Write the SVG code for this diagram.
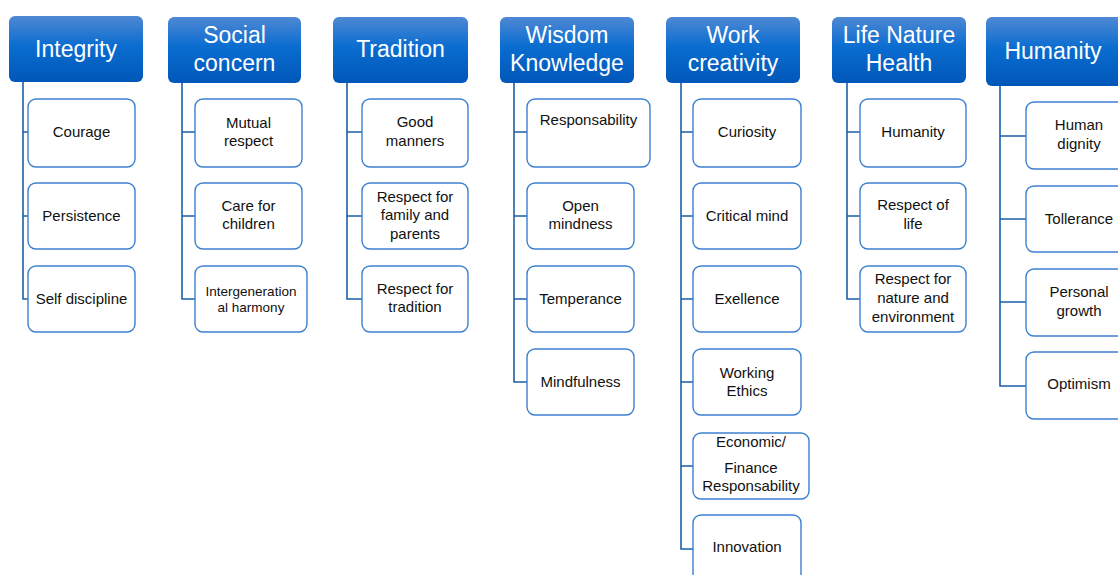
<svg xmlns="http://www.w3.org/2000/svg" width="1118" height="575" viewBox="0 0 1118 575">
<defs>
<linearGradient id="hg" x1="0" y1="0" x2="0" y2="1">
<stop offset="0" stop-color="#4f88d3"/>
<stop offset="0.45" stop-color="#0a6dd0"/>
<stop offset="1" stop-color="#0057b8"/>
</linearGradient>
<style>
.h{fill:url(#hg);}
.ht{fill:#fff;font-family:"Liberation Sans",Arial,sans-serif;font-size:23px;text-anchor:middle;}
.c{fill:#fff;stroke:#3c80d0;stroke-width:1.4;}
.ct{fill:#111;font-family:"Liberation Sans",Arial,sans-serif;font-size:15px;text-anchor:middle;}
.sm{font-size:13.5px;}
.ln{fill:none;stroke:#1d5fa9;stroke-width:1.6;}
</style>
</defs>
<rect width="1118" height="575" fill="#fff"/>
<g id="connectors">
<path class="ln" d="M23,81V299H28M23,132H28M23,216H28"/>
<path class="ln" d="M182,83V299H195M182,132H195M182,216H195"/>
<path class="ln" d="M347,83V299H362M347,132H362M347,216H362"/>
<path class="ln" d="M514,83V382H527M514,132H527M514,216H527M514,299H527"/>
<path class="ln" d="M681,83V549H693M681,132H693M681,216H693M681,299H693M681,382H693M681,466H693"/>
<path class="ln" d="M847,83V299H860M847,132H860M847,216H860"/>
<path class="ln" d="M1000,86V386H1026M1000,136H1026M1000,219H1026M1000,302H1026"/>
</g>
<g id="h-integrity"><rect class="h" x="9" y="16" width="134" height="66" rx="6"/><text class="ht" x="76" y="57">Integrity</text></g>
<g id="h-social"><rect class="h" x="168" y="17" width="133" height="66" rx="6"/><text class="ht" x="234.5" y="43">Social</text><text class="ht" x="234.5" y="71">concern</text></g>
<g id="h-tradition"><rect class="h" x="333" y="17" width="135" height="66" rx="6"/><text class="ht" x="400.5" y="57">Tradition</text></g>
<g id="h-wisdom"><rect class="h" x="500" y="17" width="134" height="66" rx="6"/><text class="ht" x="567" y="43">Wisdom</text><text class="ht" x="567" y="71">Knowledge</text></g>
<g id="h-work"><rect class="h" x="666" y="17" width="134" height="66" rx="6"/><text class="ht" x="733" y="43">Work</text><text class="ht" x="733" y="71">creativity</text></g>
<g id="h-life"><rect class="h" x="832" y="17" width="134" height="66" rx="6"/><text class="ht" x="899" y="43">Life Nature</text><text class="ht" x="899" y="71">Health</text></g>
<g id="h-humanity"><rect class="h" x="986" y="17" width="140" height="69" rx="6"/><text class="ht" x="1053" y="59">Humanity</text></g>

<g id="n-courage"><rect class="c" x="28" y="99" width="107" height="68" rx="8"/><text class="ct" x="81.5" y="137">Courage</text></g>
<g id="n-persistence"><rect class="c" x="28" y="183" width="107" height="66" rx="8"/><text class="ct" x="81.5" y="221">Persistence</text></g>
<g id="n-selfdiscipline"><rect class="c" x="28" y="266" width="107" height="66" rx="8"/><text class="ct" x="81.5" y="304">Self discipline</text></g>

<g id="n-mutual"><rect class="c" x="195" y="99" width="107" height="68" rx="8"/><text class="ct" x="248.5" y="128">Mutual</text><text class="ct" x="248.5" y="146">respect</text></g>
<g id="n-care"><rect class="c" x="195" y="183" width="107" height="66" rx="8"/><text class="ct" x="248.5" y="211">Care for</text><text class="ct" x="248.5" y="229">children</text></g>
<g id="n-intergen"><rect class="c" x="195" y="266" width="112" height="66" rx="8"/><text class="ct sm" x="251" y="296">Intergeneration</text><text class="ct sm" x="251" y="312">al harmony</text></g>

<g id="n-goodmanners"><rect class="c" x="362" y="99" width="106" height="68" rx="8"/><text class="ct" x="415" y="127">Good</text><text class="ct" x="415" y="146">manners</text></g>
<g id="n-family"><rect class="c" x="362" y="183" width="106" height="66" rx="8"/><text class="ct" x="415" y="202">Respect for</text><text class="ct" x="415" y="220">family and</text><text class="ct" x="415" y="239">parents</text></g>
<g id="n-resptradition"><rect class="c" x="362" y="266" width="106" height="66" rx="8"/><text class="ct" x="415" y="294">Respect for</text><text class="ct" x="415" y="312">tradition</text></g>

<g id="n-responsability"><rect class="c" x="527" y="99" width="123" height="68" rx="8"/><text class="ct" x="588.5" y="125">Responsability</text></g>
<g id="n-open"><rect class="c" x="527" y="183" width="107" height="66" rx="8"/><text class="ct" x="580.5" y="211">Open</text><text class="ct" x="580.5" y="229">mindness</text></g>
<g id="n-temperance"><rect class="c" x="527" y="266" width="107" height="66" rx="8"/><text class="ct" x="580.5" y="304">Temperance</text></g>
<g id="n-mindfulness"><rect class="c" x="527" y="349" width="107" height="66" rx="8"/><text class="ct" x="580.5" y="387">Mindfulness</text></g>

<g id="n-curiosity"><rect class="c" x="693" y="99" width="108" height="68" rx="8"/><text class="ct" x="747" y="137">Curiosity</text></g>
<g id="n-critical"><rect class="c" x="693" y="183" width="108" height="66" rx="8"/><text class="ct" x="747" y="221">Critical mind</text></g>
<g id="n-exellence"><rect class="c" x="693" y="266" width="108" height="66" rx="8"/><text class="ct" x="747" y="304">Exellence</text></g>
<g id="n-ethics"><rect class="c" x="693" y="349" width="108" height="66" rx="8"/><text class="ct" x="747" y="378">Working</text><text class="ct" x="747" y="396">Ethics</text></g>
<g id="n-economic"><rect class="c" x="693" y="433" width="116" height="66" rx="8"/><text class="ct" x="751" y="447">Economic/</text><text class="ct" x="751" y="473">Finance</text><text class="ct" x="751" y="491">Responsability</text></g>
<g id="n-innovation"><rect class="c" x="693" y="515" width="108" height="80" rx="8"/><text class="ct" x="747" y="552">Innovation</text></g>

<g id="n-humanity2"><rect class="c" x="860" y="99" width="106" height="68" rx="8"/><text class="ct" x="913" y="137">Humanity</text></g>
<g id="n-life"><rect class="c" x="860" y="183" width="106" height="66" rx="8"/><text class="ct" x="913" y="210">Respect of</text><text class="ct" x="913" y="229">life</text></g>
<g id="n-nature"><rect class="c" x="860" y="266" width="106" height="66" rx="8"/><text class="ct" x="913" y="284">Respect for</text><text class="ct" x="913" y="303">nature and</text><text class="ct" x="913" y="322">environment</text></g>

<g id="n-dignity"><rect class="c" x="1026" y="102" width="107" height="67" rx="8"/><text class="ct" x="1079" y="130">Human</text><text class="ct" x="1079" y="149">dignity</text></g>
<g id="n-tollerance"><rect class="c" x="1026" y="186" width="107" height="66" rx="8"/><text class="ct" x="1079" y="224">Tollerance</text></g>
<g id="n-growth"><rect class="c" x="1026" y="269" width="107" height="67" rx="8"/><text class="ct" x="1079" y="297">Personal</text><text class="ct" x="1079" y="316">growth</text></g>
<g id="n-optimism"><rect class="c" x="1026" y="352" width="107" height="67" rx="8"/><text class="ct" x="1079" y="389">Optimism</text></g>
</svg>
